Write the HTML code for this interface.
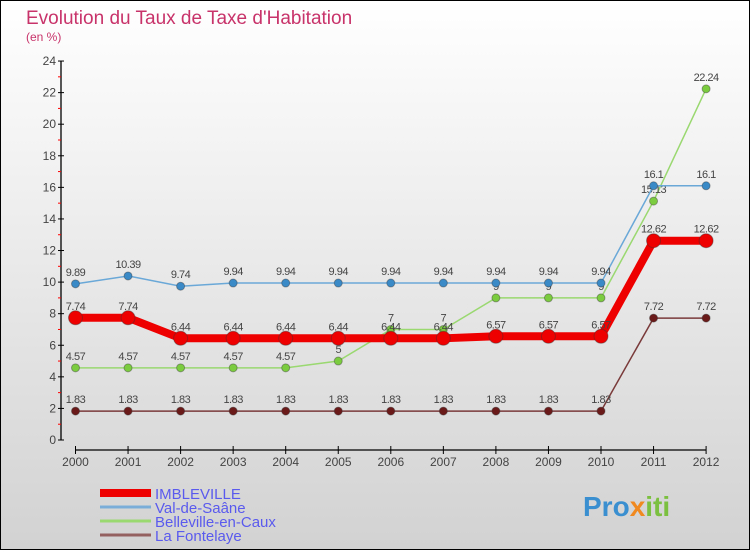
<!DOCTYPE html>
<html><head><meta charset="utf-8"><style>
body{margin:0}
svg{display:block;font-family:"Liberation Sans",sans-serif}
</style></head><body>
<svg id="c" width="750" height="550">
<defs><linearGradient id="bg" x1="0" y1="0" x2="0" y2="1"><stop offset="0" stop-color="#ffffff"/><stop offset="1" stop-color="#d2d2d2"/></linearGradient></defs>
<rect x="0.5" y="0.5" width="749" height="549" fill="url(#bg)" stroke="#000"/>
<text x="26" y="24" font-size="19" fill="#c8336a">Evolution du Taux de Taxe d'Habitation</text>
<text x="26" y="41" font-size="12" fill="#c8336a">(en %)</text>
<g id="axes"></g><g id="series"></g><g id="legend"></g>
<text x="583" y="516" font-size="28" font-weight="bold" fill="#3a8fd0">Pro<tspan fill="#f08a20">x</tspan><tspan fill="#7cc040">iti</tspan></text>
</svg>
<script>
const years=[2000,2001,2002,2003,2004,2005,2006,2007,2008,2009,2010,2011,2012];
const yTicks=[0,2,4,6,8,10,12,14,16,18,20,22,24];
const imbleville=[7.74,7.74,6.44,6.44,6.44,6.44,6.44,6.44,6.57,6.57,6.57,12.62,12.62];
const valDeSaane=[9.89,10.39,9.74,9.94,9.94,9.94,9.94,9.94,9.94,9.94,9.94,16.1,16.1];
const belleville=[4.57,4.57,4.57,4.57,4.57,5,7,7,9,9,9,15.13,22.24];
const fontelaye=[1.83,1.83,1.83,1.83,1.83,1.83,1.83,1.83,1.83,1.83,1.83,7.72,7.72];
const seriesNames=["IMBLEVILLE","Val-de-Saâne","Belleville-en-Caux","La Fontelaye"];
const NS="http://www.w3.org/2000/svg";
const X=i=>75.5+i*52.55;
const Y=v=>440-v*15.79;
function mk(tag,attrs,parent,txt){const e=document.createElementNS(NS,tag);for(const k in attrs)e.setAttribute(k,attrs[k]);if(txt!==undefined)e.textContent=txt;parent.appendChild(e);return e;}
const ax=document.getElementById('axes');
let yl=mk('line',{x1:61,y1:Y(24),x2:61,y2:Y(0),stroke:'#000','stroke-width':1.3},ax);


yTicks.forEach(t=>{
  mk('line',{x1:58,y1:Y(t),x2:64,y2:Y(t),stroke:'#000'},ax);
  if(t<24)mk('line',{x1:58,y1:Y(t+1),x2:61,y2:Y(t+1),stroke:'#f00'},ax);
  const tx=mk('text',{x:56,y:Y(t)+4,'font-size':12,fill:'#444','text-anchor':'end'},ax,t);
  
  
});
let xl=mk('line',{x1:X(0),y1:450,x2:X(12),y2:450,stroke:'#000','stroke-width':1.3},ax);


years.forEach((yr,i)=>{
  mk('line',{x1:X(i),y1:446,x2:X(i),y2:454,stroke:'#000'},ax);
  const tx=mk('text',{x:X(i),y:466,'font-size':12,fill:'#444','text-anchor':'middle'},ax,yr);
  
  
});
const sg=document.getElementById('series');
function draw(data,color,dot,w,r,name){
  const g=mk('g',{},sg);
  
  
  mk('polyline',{points:data.map((v,i)=>X(i)+','+Y(v)).join(' '),fill:'none',stroke:color,'stroke-width':w},g);
  data.forEach((v,i)=>{
    const c=mk('circle',{cx:X(i),cy:Y(v),r:r,fill:dot,stroke:'#333','stroke-opacity':0.4},g);
    
    
    mk('text',{x:X(i),y:Y(v)-8,'font-size':11,fill:'#444','text-anchor':'middle','letter-spacing':'-0.5'},g,v);
  });
}
draw(fontelaye,'#7a3a3a','#6b1a1a',1.5,4,'series-la-fontelaye');
draw(belleville,'#9ad870','#7ccc40',1.5,4,'series-belleville-en-caux');
draw(valDeSaane,'#6aa8d8','#3a8ac8',1.5,4,'series-val-de-saane');
draw(imbleville,'#ee0000','#ee0000',8,7,'series-imbleville');
const lg=document.getElementById('legend');
const lc=['#ee0000','#7aaed8','#9ad870','#946060'],lw=[8,3,3,3];
seriesNames.forEach((n,i)=>{
  const y=493+i*14;
  const g=mk('g',{},lg);
  
  
  mk('line',{x1:100,y1:y,x2:151,y2:y,stroke:lc[i],'stroke-width':lw[i]},g);
  mk('text',{x:155,y:y+6,'font-size':15,fill:'#5a5aee'},g,n);
});
</script>
</body></html>
